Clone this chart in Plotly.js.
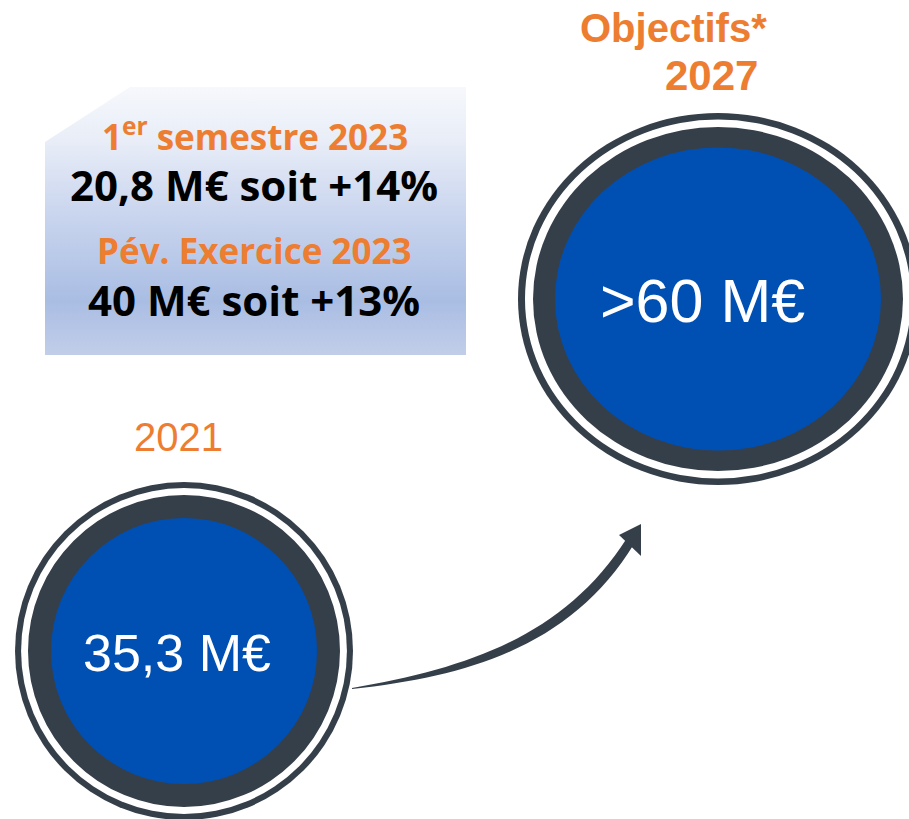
<!DOCTYPE html>
<html>
<head>
<meta charset="utf-8">
<script src="https://cdn.plot.ly/plotly-3.0.1.min.js"></script>
<style>html,body{margin:0;padding:0;background:#fff;}#chart{width:909px;height:819px;}</style>
</head>
<body>
<div id="chart"></div>
<script>
// ---- data ----
const years = ["2021", "2027"];
const values = ["35,3 M€", ">60 M€"];
const targetLabel = "Objectifs*";
const boxHeadings = ["1<sup>er</sup> semestre 2023", "Pév. Exercice 2023"];
const boxFigures = ["20,8 M€ soit +14%", "40 M€ soit +13%"];

// ---- styles / geometry ----
const ORANGE = "#ED7D31";
const DARK = "#353F4A";
const BLUE = "#0050B4";
const circ = [
  {cx: 184, cy: 651, rx: 169, ry: 169, k: [1, 0.964, 0.923, 0.787], fs: 52, tx: 177, ty: 653},
  {cx: 718, cy: 299, rx: 200, ry: 186, k: [1, 0.965, 0.925, 0.815], fs: 61, tx: 702, ty: 301}
];

const shapes = [];
circ.forEach(c => {
  const cols = [DARK, "#ffffff", DARK, BLUE];
  c.k.forEach((k, i) => {
    shapes.push({type: "circle", xref: "x", yref: "y",
      x0: c.cx - c.rx * k, x1: c.cx + c.rx * k, y0: c.cy - c.ry * k, y1: c.cy + c.ry * k,
      fillcolor: cols[i], line: {width: 0}, layer: "below"});
  });
});
// arrow body (tapered) and head
shapes.push({type: "path", xref: "x", yref: "y",
  path: "M 352,688 C 470,668 565,635 627,538 L 634,544 C 574,642 476,676 352,689 Z",
  fillcolor: DARK, line: {width: 0}, layer: "below"});
shapes.push({type: "path", xref: "x", yref: "y",
  path: "M 619,535 L 641,524 L 641,556 Z",
  fillcolor: DARK, line: {width: 0}, layer: "below"});

const traces = [
  { // gradient box
    x: [45, 130, 466, 466, 45, 45],
    y: [142, 87, 87, 355, 355, 142],
    mode: "lines", fill: "toself", line: {width: 0},
    fillgradient: {type: "vertical", start: 87, stop: 355,
      colorscale: [[0, "#f6f8fc"], [0.2, "#e8edf7"], [0.45, "#ccd7ef"], [0.8, "#a9bde3"], [1, "#c2cee9"]]},
    hoverinfo: "skip", showlegend: false
  }
];

const arial = "Arial, 'Liberation Sans', sans-serif";
const boxFont = "'Open Sans', 'Noto Sans', sans-serif";
const annotations = values.map((v, i) => ({
  x: circ[i].tx, y: circ[i].ty, text: v, showarrow: false, xanchor: "center", yanchor: "middle",
  font: {family: arial, size: circ[i].fs, color: "#ffffff"}
})).concat([
  {x: 178, y: 437, text: years[0], showarrow: false, xanchor: "center", yanchor: "middle",
   font: {family: arial, size: 40, color: ORANGE}},
  {x: 673, y: 28, text: "<b>" + targetLabel + "</b>", showarrow: false, xanchor: "center", yanchor: "middle",
   font: {family: arial, size: 40, color: ORANGE}},
  {x: 711, y: 75, text: "<b>" + years[1] + "</b>", showarrow: false, xanchor: "center", yanchor: "middle",
   font: {family: arial, size: 42, color: ORANGE}},
  {x: 255, y: 134, text: "<b>" + boxHeadings[0] + "</b>", showarrow: false, xanchor: "center", yanchor: "middle",
   font: {family: boxFont, size: 35, color: ORANGE}},
  {x: 254, y: 184, text: "<b>" + boxFigures[0] + "</b>", showarrow: false, xanchor: "center", yanchor: "middle",
   font: {family: boxFont, size: 42, color: "#000000"}},
  {x: 254, y: 250, text: "<b>" + boxHeadings[1] + "</b>", showarrow: false, xanchor: "center", yanchor: "middle",
   font: {family: boxFont, size: 35, color: ORANGE}},
  {x: 254, y: 299, text: "<b>" + boxFigures[1] + "</b>", showarrow: false, xanchor: "center", yanchor: "middle",
   font: {family: boxFont, size: 42, color: "#000000"}}
]);

const layout = {
  width: 909, height: 819,
  margin: {l: 0, r: 0, t: 0, b: 0, pad: 0},
  paper_bgcolor: "#ffffff", plot_bgcolor: "rgba(0,0,0,0)",
  xaxis: {range: [0, 909], visible: false, fixedrange: true},
  yaxis: {range: [819, 0], visible: false, fixedrange: true},
  shapes: shapes, annotations: annotations, showlegend: false
};

Plotly.newPlot("chart", traces, layout, {displayModeBar: false, staticPlot: true});
</script>
</body>
</html>
